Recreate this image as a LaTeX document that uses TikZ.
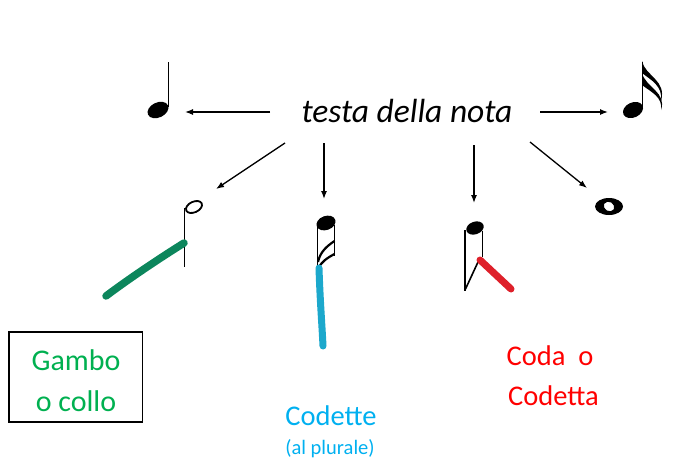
\documentclass[tikz,border=0pt]{standalone}
\usepackage{fontspec}
\setmainfont{Carlito}
\usetikzlibrary{arrows.meta}
\definecolor{txtgreen}{RGB}{0,176,80}
\definecolor{txtcyan}{RGB}{0,176,240}
\definecolor{txtred}{RGB}{255,0,0}
\definecolor{penGreen}{RGB}{12,134,92}
\definecolor{penCyan}{RGB}{28,168,204}
\definecolor{penRed}{RGB}{222,32,42}
\tikzset{
  pointer/.style={line width=1.3pt,-{Latex[length=8pt,width=6pt]}},
  stem/.style={line width=1.4pt},
  marker/.style={line width=7.5pt,line cap=round},
  label/.style={anchor=base,inner sep=0pt,font=\fontsize{28.5}{34}\selectfont},
}
\begin{document}
\begin{tikzpicture}[x=1pt,y=-1pt]
\useasboundingbox (0,0) rectangle (677,464);

% central label
\node[anchor=base,inner sep=0pt,font=\fontsize{33.5}{40}\itshape\selectfont] (head) at (407,122) {testa della nota};

% quarter note (left)
\fill[rotate around={25:(158,110)}] (158,110) ellipse [x radius=11pt, y radius=7.5pt];
\draw[stem] (168.3,107) -- (168.3,62);
\coordinate (qn) at (185,112);

% sixteenth note (right)
\fill[rotate around={25:(633,110)}] (633,110) ellipse [x radius=10.5pt, y radius=7.5pt];
\draw[stem] (642.5,107) -- (642.5,62);
\fill (642,61) .. controls (645,76) and (667,80) .. (661,101)
      .. controls (663,86) and (651,80) .. (642,73) -- cycle;
\fill (642,73) .. controls (646,88) and (667,92) .. (661,110)
      .. controls (663,97) and (651,92) .. (642,85) -- cycle;
\coordinate (sn) at (608,112);

% half note with the stem marked
\draw[line width=1.8pt,rotate around={25:(194,207)}] (194,207) ellipse [x radius=8.5pt, y radius=5.3pt];
\draw[stem] (184.6,208) -- (184.6,267);
\draw[marker,penGreen] (184,243) .. controls (160,258) and (130,278) .. (106,296);
\coordinate (hn) at (216,189);

% eighth note with the flags marked
\fill[rotate around={20:(326,223)}] (326,223) ellipse [x radius=9.8pt, y radius=7pt];
\draw[stem] (317.5,224) -- (317.5,270);
\draw[line width=1pt] (334.5,225) -- (334.5,256);
\draw[line width=2.2pt] (334.5,241) .. controls (327,246) and (320,252) .. (318,262);
\draw[line width=2.2pt] (334.5,254) .. controls (327,258) and (321,262) .. (318,269);
\draw[marker,penCyan,line width=7pt] (319,268) .. controls (320,300) and (322,325) .. (323,346);
\coordinate (en) at (324,199);

% note with the tail marked
\fill[rotate around={20:(475,228)}] (475,228) ellipse [x radius=9pt, y radius=6.3pt];
\draw[stem] (465,230) -- (465,291);
\draw[line width=1pt] (482,231) -- (482,257);
\draw[line width=1.6pt] (465.5,289) -- (478,262);
\draw[marker,penRed,line width=7pt] (480,260) -- (511,289);
\coordinate (tn) at (474,203);

% whole note
\fill[even odd rule] (609,206.5) ellipse [x radius=14pt, y radius=8.5pt]
  [rotate around={-30:(609,206.5)}] (609,206.5) ellipse [x radius=5.5pt, y radius=4.6pt];
\coordinate (wn) at (587,188);

% arrows from the label
\draw[pointer] (270,112) -- (qn);
\draw[pointer] (540,112) -- (sn);
\draw[pointer] (285,143) -- (hn);
\draw[pointer] (324,143) -- (en);
\draw[pointer] (474,145) -- (tn);
\draw[pointer] (530,142) -- (wn);

% captions
\draw[line width=1.5pt] (9,332) rectangle (142.5,422);
\node[label,txtgreen,font=\fontsize{30}{36}\selectfont] (gambo1) at (76,370) {Gambo};
\node[label,txtgreen,font=\fontsize{30}{36}\selectfont] (gambo2) at (76,411) {o collo};
\node[label,txtcyan] (codette) at (331,425) {Codette};
\node[label,txtcyan,font=\fontsize{20.5}{24}\selectfont] (plurale) at (330,454) {(al plurale)};
\node[label,txtred] (coda1) at (550,365) {Coda\ \ o};
\node[label,txtred] (coda2) at (553.5,405) {Codetta};
\end{tikzpicture}
\end{document}
